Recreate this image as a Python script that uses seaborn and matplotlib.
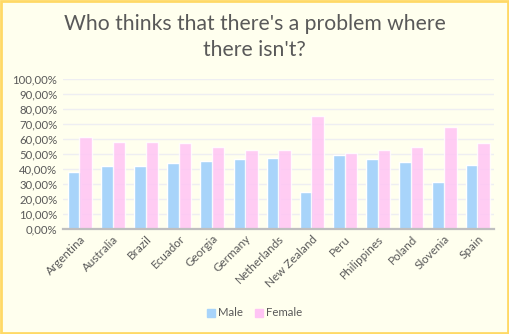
import matplotlib
matplotlib.use("Agg")
import matplotlib.pyplot as plt
import matplotlib.ticker as mticker
from matplotlib.patches import Rectangle
import seaborn as sns
import pandas as pd

countries = ["Argentina", "Australia", "Brazil", "Ecuador", "Georgia", "Germany",
             "Netherlands", "New Zealand", "Peru", "Philippines", "Poland",
             "Slovenia", "Spain"]
male = [0.381, 0.421, 0.421, 0.441, 0.454, 0.468, 0.473, 0.246, 0.493,
        0.467, 0.446, 0.312, 0.426]
female = [0.615, 0.581, 0.581, 0.575, 0.548, 0.528, 0.529, 0.754, 0.507,
          0.529, 0.549, 0.683, 0.574]
series = ["Male", "Female"]
yticks = [i / 10 for i in range(11)]

df = pd.DataFrame({
    "country": countries * 2,
    "share": male + female,
    "sex": [series[0]] * len(countries) + [series[1]] * len(countries),
})

BG = "#FFFFEE"
TXT = "#595959"
colors = {"Male": "#A8D4FA", "Female": "#FFC4F4"}

sns.set_theme(style="white")
plt.rcParams["font.family"] = ["Lato", "DejaVu Sans"]

fig = plt.figure(figsize=(5.09, 3.34), dpi=100, facecolor=BG)
fig.add_artist(Rectangle((0.002, 0.003), 0.996, 0.994, transform=fig.transFigure,
                         fill=False, edgecolor="#FFD966", linewidth=2))
ax = fig.add_axes([63 / 509, 1 - 229 / 334, 431 / 509, 150 / 334])
ax.set_facecolor(BG)

sns.barplot(data=df, x="country", y="share", hue="sex", hue_order=series,
            palette=colors, saturation=1, ax=ax, legend=False, zorder=3)

# Narrow overlap between the two bars of each country
bar_w = 0.39
for i, patch in enumerate(ax.patches[:2 * len(countries)]):
    c = patch.get_x() + patch.get_width() / 2
    base = round(c)
    off = -0.16 if i < len(countries) else 0.19
    patch.set_x(base + off - bar_w / 2)
    patch.set_width(bar_w if i < len(countries) else 0.375)
    if i >= len(countries):
        patch.set_alpha(0.85)
        patch.set_zorder(4)

ax.set_xlim(-0.5, len(countries) - 0.5)
ax.set_ylim(0, 1.0)
ax.set_yticks(yticks)
ax.yaxis.set_major_formatter(mticker.FuncFormatter(
    lambda v, p: f"{v * 100:.2f}".replace(".", ",") + "%"))
ax.grid(axis="y", color="#EEEEF2", linewidth=1, zorder=0)
ax.grid(axis="x", visible=False)
for s in ["top", "right", "left"]:
    ax.spines[s].set_visible(False)
ax.spines["bottom"].set_color("#BFBFBF")
ax.spines["bottom"].set_linewidth(1.6)
ax.spines["bottom"].set_zorder(5)
ax.tick_params(axis="y", length=0, labelsize=8.2, labelcolor=TXT, pad=4)
ax.tick_params(axis="x", length=0, labelsize=8.4, labelcolor=TXT, pad=3)
plt.setp(ax.get_xticklabels(), rotation=45, ha="right", rotation_mode="anchor")
ax.set_xlabel("")
ax.set_ylabel("")

fig.text(0.5, 1 - 24 / 334, "Who thinks that there's a problem where", ha="center",
         va="center", fontsize=15.2, color=TXT, fontweight="normal")
fig.text(0.5, 1 - 50 / 334, "there isn't?", ha="center", va="center",
         fontsize=15.2, color=TXT, fontweight="normal")

handles = [Rectangle((0, 0), 1, 1, color=colors[s]) for s in series]
fig.legend(handles, series, loc="center", bbox_to_anchor=(0.5, 1 - 313 / 334),
           ncol=2, frameon=False, fontsize=8.2, handlelength=0.7, handleheight=0.7,
           handletextpad=0.3, columnspacing=1.0, labelcolor=TXT)

fig.savefig("out.png", dpi=100, facecolor=BG)
